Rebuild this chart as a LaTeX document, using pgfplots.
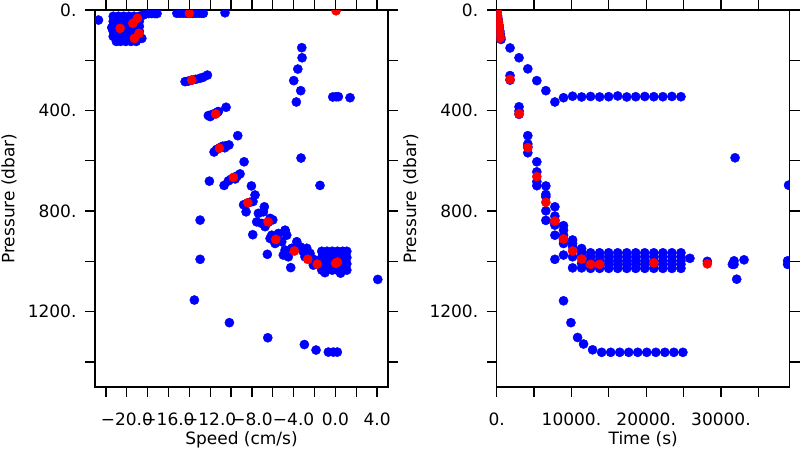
\documentclass[border=0pt]{standalone}
\usepackage{fontspec}
\setmainfont{DejaVu Sans}
\usepackage{pgfplots}
\pgfplotsset{compat=1.18}
\definecolor{pblue}{RGB}{0,0,255}
\definecolor{pred}{RGB}{255,0,0}
\pgfplotsset{
  panel/.style={
    scale only axis, width=293pt, height=377pt, anchor=south west,
    y dir=reverse, ymin=0, ymax=1500,
    ytick={0,200,...,1400},
    yticklabels={0.,,400.,,800.,,1200.,},
    tick align=outside, major tick length=10pt,
    axis line style={line width=1.3pt},
    every tick/.style={line width=1.3pt, black},
    clip marker paths=true,
    tick label style={font=\fontsize{17}{20}\selectfont},
    label style={font=\fontsize{17}{20}\selectfont},
    ylabel={Pressure (dbar)},
    xticklabel style={yshift=-12pt},
    yticklabel style={xshift=-5pt},
    ylabel style={at={(axis description cs:-0.2935,0.5)}, anchor=center},
    xlabel style={yshift=1pt},
  },
  bl/.style={only marks, mark=*, mark size=4.6pt, color=pblue},
  rd/.style={only marks, mark=*, mark size=4.6pt, color=pred},
}
\begin{document}
\begin{tikzpicture}[x=1pt,y=1pt]
\useasboundingbox (0,0) rectangle (800,450);
% ---------------- left panel ----------------
\begin{axis}[panel, at={(95pt,63pt)},
  xmin=-23.05, xmax=5.05,
  xtick={-22,-20,...,4},
  xticklabels={,−20.0,,−16.0,,−12.0,,−8.0,,−4.0,,0.0,,4.0},
  xlabel={Speed (cm/s)}]
\addplot[bl] coordinates {
(-22.72,40)
(-21.3,25)(-20.8,25)(-20.3,25)(-19.8,25)(-19.3,25)(-18.8,25)
(-21.3,45)(-20.8,45)(-20.3,45)(-19.8,45)(-19.3,45)(-18.8,45)
(-21.3,65)(-20.8,65)(-20.3,65)(-19.8,65)(-19.3,65)(-18.8,65)
(-21.3,85)(-20.8,85)(-20.3,85)(-19.8,85)(-19.3,85)(-18.8,85)
(-21.3,105)(-20.8,105)(-20.3,105)(-19.8,105)(-19.3,105)(-18.8,105)
(-21.0,125)(-20.6,125)(-20.1,125)(-19.6,125)(-19.1,125)
(-21.44,70)(-18.41,20)(-18.56,113)
(-17.9,14)(-17.6,14)(-17.3,14)(-17.1,14)(-15.2,13)(-14.9,13)(-14.6,13)(-14.3,13)
(-14.0,13)(-13.7,13)(-13.4,13)(-13.1,13)(-12.8,13)(-12.66,13)(-10.58,11)
(-14.41,285)(-14.1,283)(-13.77,279)(-13.4,276)(-13.0,272)(-12.7,268)(-12.27,259)
(-12.18,420)(-11.9,417)(-11.6,412)(-11.3,406)(-11.22,404)(-12.0,424)(-10.48,387)
(-11.63,565)(-11.4,555)(-11.1,548)(-10.8,542)(-10.5,540)(-10.2,537)(-10.6,548)(-9.36,500)
(-10.26,680)(-10.0,673)(-9.7,667)(-9.4,660)(-9.14,652)(-9.6,672)(-8.75,604)(-12.08,681)(-10.67,698)
(-8.8,775)(-8.5,770)(-8.2,765)(-7.9,762)(-8.05,700)(-7.70,736)(-8.56,803)(-6.81,783)
(-7.38,809)(-6.90,803)(-6.26,829)(-7.06,849)(-7.54,843)(-6.74,862)(-6.45,845)(-6.0,835)
(-12.97,836)(-7.92,894)(-4.82,878)
(-6.10,896)(-5.46,889)(-4.82,876)(-4.66,896)(-5.14,922)(-5.78,929)(-6.26,909)(-5.71,913)
(-6.52,972)
(-3.70,922)(-3.38,942)(-4.18,948)(-4.82,955)(-4.99,975)(-4.51,982)(-3.07,962)(-2.74,948)
(-2.43,968)(-2.91,982)(-2.26,988)(-1.95,995)(-1.47,1002)(-1.30,1022)(-2.11,1015)(-0.99,975)
(-4.28,1025)
(-1.3,960)(-0.8,960)(-0.3,960)(0.2,960)(0.7,960)(1.1,960)
(-1.3,985)(-0.8,985)(-0.3,985)(0.2,985)(0.7,985)(1.1,985)
(-1.3,1010)(-0.8,1010)(-0.3,1010)(0.2,1010)(0.7,1010)(1.1,1010)
(-1.3,1035)(-0.8,1035)(-0.3,1035)(0.2,1035)(0.7,1035)(1.1,1035)
(-1.0,1045)(0.5,1047)
(-3.22,150)(-3.19,190)(-3.60,235)(-3.99,281)(-3.32,321)(-3.74,366)
(-0.25,346)(0.07,345)(0.29,345)(1.41,349)(-3.29,589)(-1.47,698)
(-12.97,992)(-13.52,1154)(-10.16,1244)(-6.48,1304)(-2.97,1331)(-1.85,1353)
(-0.67,1361)(-0.19,1361)(0.19,1361)(4.07,1072)
};
\addplot[rd] coordinates {
(0.07,3)(-20.64,73)(-19.42,53)(-18.98,33)(-18.82,93)(-19.27,113)(-14.0,13)
(-13.77,279)(-11.47,414)(-11.12,550)(-9.78,666)(-8.40,767)(-6.45,843)(-5.71,913)
(-3.93,959)(-2.65,992)(-1.73,1011)(0.04,1008)(0.2,1003)
};
\end{axis}
% ---------------- right panel ----------------
\begin{axis}[panel, at={(496.7pt,63pt)},
  xmin=0, xmax=39200,
  xtick={0,5000,...,35000},
  xticklabels={0.,,10000.,,20000.,,30000.,},
  scaled x ticks=false,
  xlabel={Time (s)}]
\addplot[bl] coordinates {
(0,0)(60,12)(120,24)(180,36)(240,48)(300,60)(360,72)(420,84)(480,96)(540,108)(577,117)
(1785,151)(2990,190)(4160,234)(5368,281)(6575,321)(7783,366)
(8940,349)(10150,343)(11360,346)(12560,344)(13770,346)(14980,345)(16190,342)
(17400,346)(18600,345)(19810,344)(21020,345)(22230,345)(23440,344)(24650,345)
(1785,261)(1785,279)
(2990,385)(2990,402)(2990,415)
(4160,500)(4160,533)(4160,544)(4160,568)
(5368,604)(5368,644)(5368,683)(5368,699)
(6575,700)(6575,734)(6575,743)(6575,799)(6575,837)
(7783,783)(7783,820)(7783,836)(7783,849)(7783,856)(7783,896)(7783,992)
(8940,858)(8940,876)(8940,896)(8940,915)(8940,929)(8940,975)(8940,1157)
(10150,915)(10150,929)(10150,942)(10150,982)(10150,1026)(9930,1244)
(11360,949)(11360,962)(11360,975)(11360,1008)(11360,1026)
(10820,1303)(11620,1329)(12830,1352)
(12560,966)(12560,982)(12560,998)(12560,1012)(12560,1028)
(13770,966)(13770,982)(13770,998)(13770,1012)(13770,1028)
(14980,966)(14980,982)(14980,998)(14980,1012)(14980,1028)
(16190,966)(16190,982)(16190,998)(16190,1012)(16190,1028)
(17400,966)(17400,982)(17400,998)(17400,1012)(17400,1028)
(18600,966)(18600,982)(18600,998)(18600,1012)(18600,1028)
(19810,966)(19810,982)(19810,998)(19810,1012)(19810,1028)
(21020,966)(21020,982)(21020,998)(21020,1012)(21020,1028)
(22230,966)(22230,982)(22230,998)(22230,1012)(22230,1028)
(23440,966)(23440,982)(23440,998)(23440,1012)(23440,1028)
(24650,966)(24650,982)(24650,998)(24650,1012)(24650,1028)
(14040,1362)(15250,1362)(16460,1362)(17660,1362)(18870,1362)
(20080,1362)(21290,1362)(22500,1362)(23700,1362)(24910,1362)
(25850,988)(28180,1000)(31530,1012)(31750,998)(31750,1012)(33090,994)
(32110,1071)(31890,588)(38920,1012)(38920,998)(39050,697)
};
\addplot[rd] coordinates {
(0,0)(32,8)(64,16)(96,24)(128,32)(160,40)(192,48)(224,56)(256,64)(288,72)
(320,80)(352,88)(384,96)(416,104)(448,112)
(1785,276)(2990,413)(4160,548)(5368,663)(6575,765)(7783,840)(8940,911)
(10150,959)(11360,991)(12560,1012)(13770,1012)(21020,1006)(28180,1010)
};
\end{axis}
\end{tikzpicture}
\end{document}
